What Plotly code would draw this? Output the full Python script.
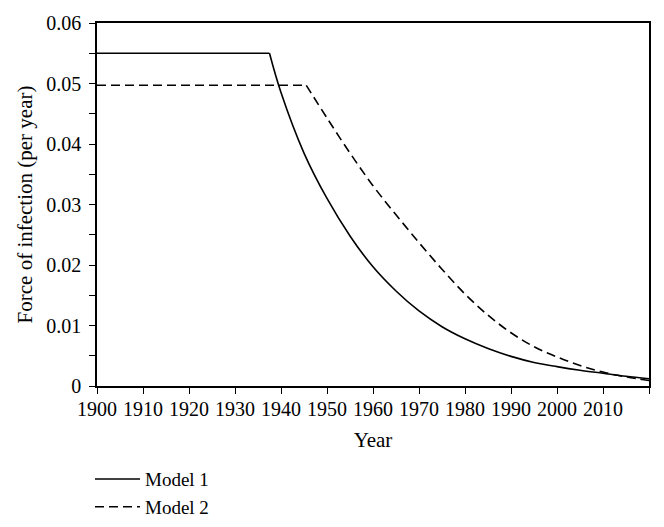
import plotly.graph_objects as go

# values
flat_years_m1 = [1900, 1937.5]
flat_foi_m1 = [0.055, 0.055]
years_m1 = [1937.5, 1940, 1945, 1950, 1955, 1960, 1965, 1970, 1975,
            1980, 1985, 1990, 1995, 2000, 2005, 2010, 2015, 2020]
foi_m1 = [0.055, 0.0485, 0.0385, 0.0310, 0.0248, 0.0197, 0.0157, 0.0124, 0.0098,
          0.0078, 0.0062, 0.0049, 0.0039, 0.0032, 0.0026, 0.0021, 0.0016, 0.0012]

flat_years_m2 = [1900, 1945.5]
flat_foi_m2 = [0.0497, 0.0497]
years_m2 = [1945.5, 1950, 1955, 1960, 1965, 1970, 1975, 1980, 1985,
            1990, 1995, 2000, 2005, 2010, 2015, 2020]
foi_m2 = [0.0497, 0.0443, 0.0385, 0.0331, 0.0283, 0.0237, 0.0193, 0.0152, 0.0117,
          0.0088, 0.0065, 0.0048, 0.0034, 0.0023, 0.0015, 0.0009]

x_ticks = list(range(1900, 2021, 10))
x_labels = [str(v) for v in x_ticks[:-1]] + [""]
y_ticks = [0, 0.01, 0.02, 0.03, 0.04, 0.05, 0.06]
y_labels = ["0", "0.01", "0.02", "0.03", "0.04", "0.05", "0.06"]

font = "Liberation Serif, Times New Roman, serif"
solid = dict(color="black", width=1.6)
dashed = dict(color="black", width=1.6, dash="9px,5px")

fig = go.Figure()
fig.add_trace(go.Scatter(x=flat_years_m1, y=flat_foi_m1, mode="lines", name="Model 1",
                         legendgroup="m1", line=solid))
fig.add_trace(go.Scatter(x=years_m1, y=foi_m1, mode="lines", name="Model 1",
                         legendgroup="m1", showlegend=False,
                         line=dict(solid, shape="spline", smoothing=1.0)))
fig.add_trace(go.Scatter(x=flat_years_m2, y=flat_foi_m2, mode="lines", name="Model 2",
                         legendgroup="m2", line=dashed))
fig.add_trace(go.Scatter(x=years_m2, y=foi_m2, mode="lines", name="Model 2",
                         legendgroup="m2", showlegend=False,
                         line=dict(dashed, shape="spline", smoothing=1.0)))

fig.update_xaxes(
    range=[1900, 2020], tickvals=x_ticks, ticktext=x_labels, automargin=False,
    showline=True, linecolor="black", linewidth=1.5, mirror=True,
    ticks="outside", ticklen=6, tickwidth=1.3, tickcolor="black",
    showgrid=False, zeroline=False, ticklabelstandoff=-2,
    tickfont=dict(family=font, size=20, color="black"),
    title=dict(text="Year", font=dict(family=font, size=21, color="black"), standoff=14),
)
fig.update_yaxes(
    range=[0, 0.06], tickvals=y_ticks, ticktext=y_labels, automargin=False,
    showline=True, linecolor="black", linewidth=1.5, mirror=True,
    ticks="outside", ticklen=6, tickwidth=1.3, tickcolor="black",
    minor=dict(dtick=0.005, ticks="outside", ticklen=6, tickwidth=1.3, tickcolor="black"),
    showgrid=False, zeroline=False, ticklabelstandoff=4,
    tickfont=dict(family=font, size=20, color="black"),
    title=dict(text="Force of infection (per year)",
               font=dict(family=font, size=21, color="black"), standoff=8),
)

# the page body adds an 8px offset, so the margins are shifted to compensate
fig.update_layout(
    width=664, height=527,
    margin=dict(l=89, r=23, t=15, b=149),
    paper_bgcolor="white", plot_bgcolor="white",
    showlegend=True,
    legend=dict(x=-0.0127, xanchor="left", yref="container", y=0.142, yanchor="top",
                font=dict(family=font, size=19, color="black"), itemwidth=45,
                tracegroupgap=0, bgcolor="rgba(0,0,0,0)"),
)

fig.write_html("out.html")
